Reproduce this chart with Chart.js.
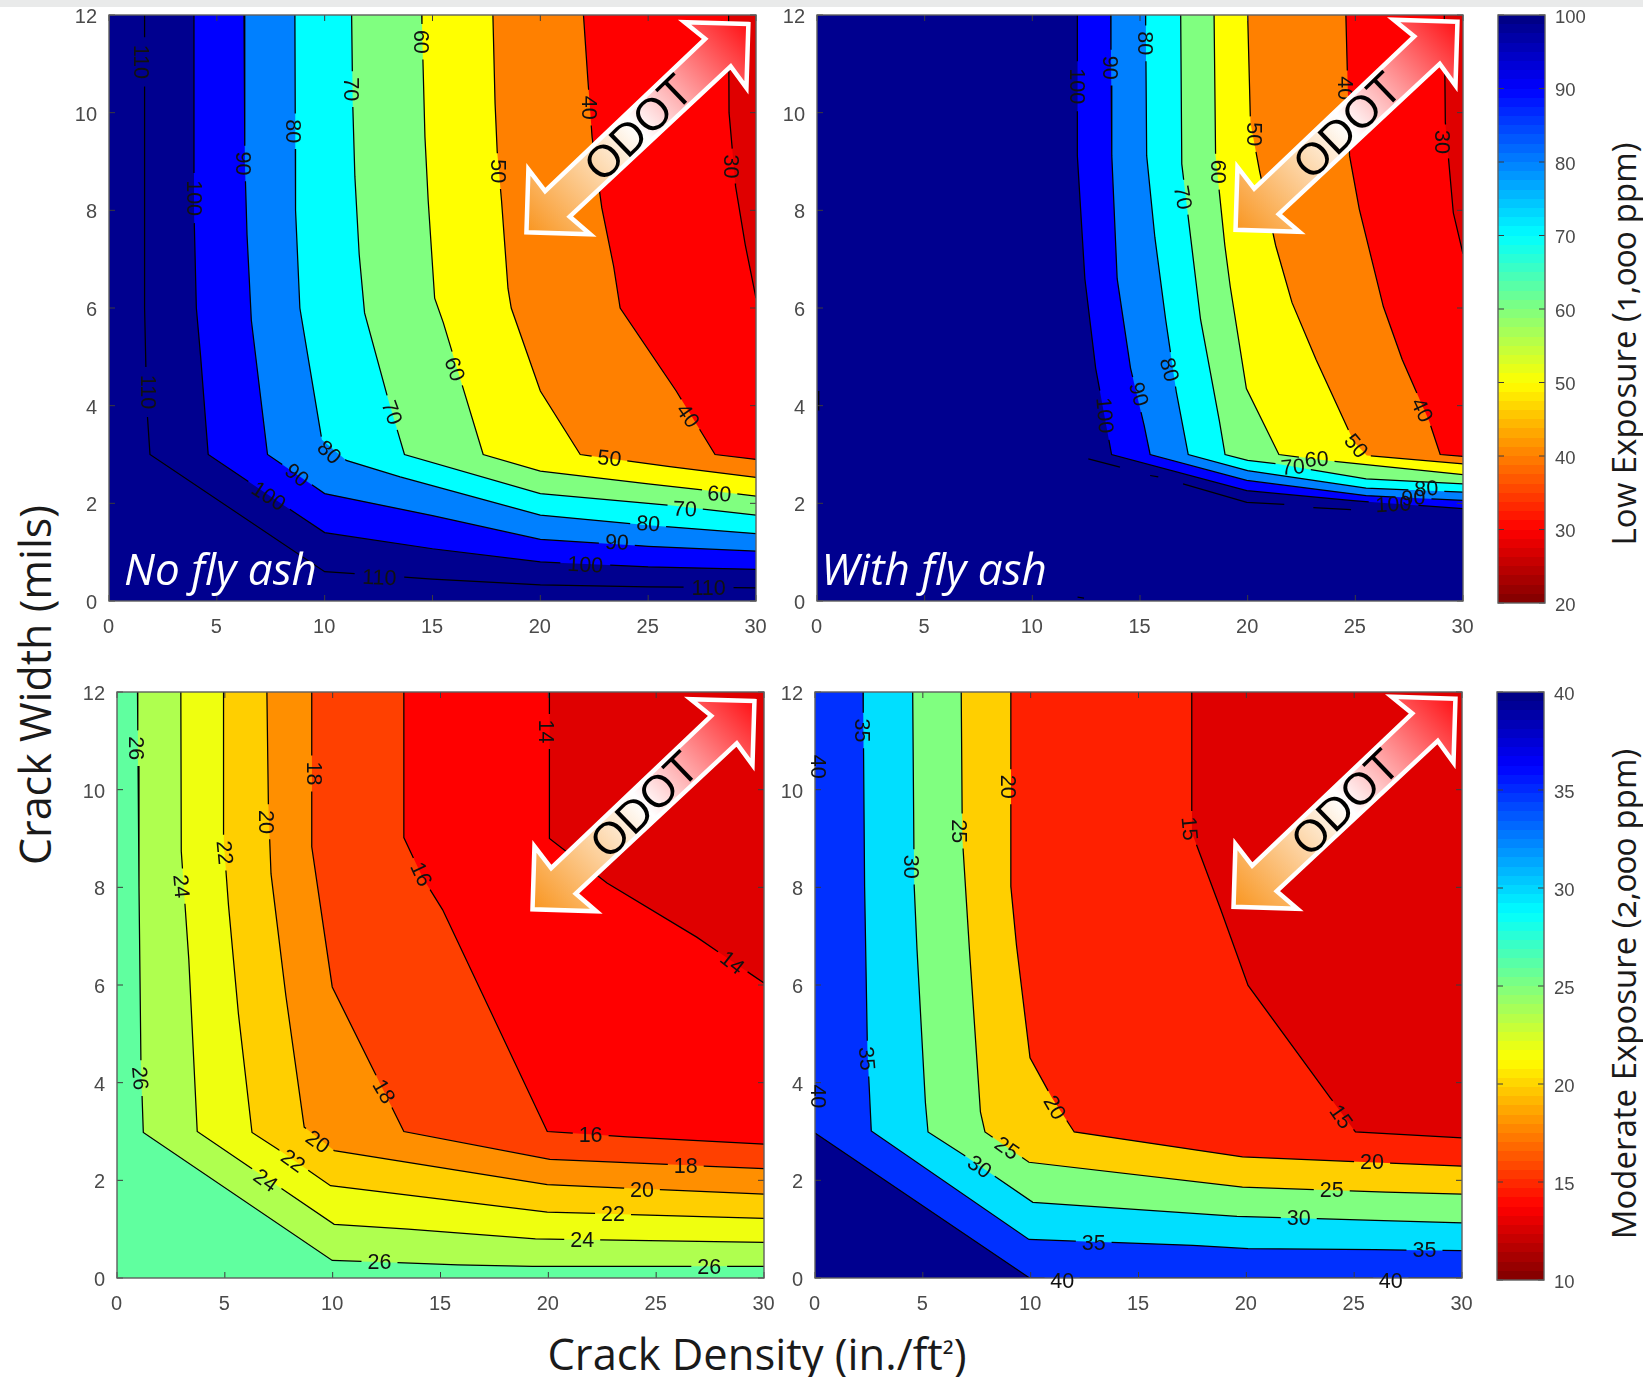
<!DOCTYPE html>
<html>
<head>
<meta charset="utf-8">
<title>Crack width vs crack density</title>
<script src="https://cdn.jsdelivr.net/npm/chart.js@4"></script>
<style>
html, body { margin: 0; padding: 0; background: #fff; }
body { position: relative; width: 1643px; height: 1377px; overflow: hidden; }
#strip { position: absolute; left: 0; top: 0; width: 1643px; height: 7px; background: #e9eaea; }
canvas { position: absolute; filter: blur(0.45px); }
.title { position: absolute; font-family: "Open Sans", sans-serif; color: #1a1a1a; white-space: nowrap; transform: translate(-50%, -50%); font-feature-settings: "onum"; }
.vert { transform: translate(-50%, -50%) rotate(-90deg); }
</style>
</head>
<body>
<div id="strip"></div>
<div class="title vert" style="left:34px; top:685px; font-size:43px;">Crack Width (mils)</div>
<div class="title" style="left:757px; top:1353px; font-size:43.5px;">Crack Density (in./ft<span style="font-size:0.72em; vertical-align:0.08em;">²</span>)</div>
<div class="title vert" style="left:1623px; top:344px; font-size:33px;">Low Exposure (1,000 ppm)</div>
<div class="title vert" style="left:1623px; top:994px; font-size:33px;">Moderate Exposure (2,000 ppm)</div>
<script>
// tick labels
const xTicks = [0, 5, 10, 15, 20, 25, 30];
const yTicks = [0, 2, 4, 6, 8, 10, 12];
const lowBarTicks = [20, 30, 40, 50, 60, 70, 80, 90, 100];
const modBarTicks = [10, 15, 20, 25, 30, 35, 40];

// top left: low exposure, no fly ash
const noAshLevels = [110, 100, 90, 80, 70, 60, 50, 40, 30];
const noAshContours = [
  [[1.65,12],[1.65,6],[1.75,4],[1.9,3],[10,0.6],[15,0.45],[20,0.33],[25,0.29],[30,0.27]],
  [[3.94,12],[3.94,8],[4.05,6],[4.25,5],[4.6,3],[10,1.4],[15,1.07],[20,0.8],[25,0.7],[30,0.65]],
  [[6.26,12],[6.3,9],[6.4,7.5],[6.6,5.75],[7.35,3],[10,2.2],[15,1.75],[20,1.26],[25,1.12],[30,1.02]],
  [[8.62,12],[8.65,8],[8.85,6],[9.87,3.3],[11,2.88],[13.5,2.54],[20,1.76],[25,1.55],[30,1.38]],
  [[11.25,12],[11.3,10.2],[11.4,8.7],[11.6,7.1],[11.85,5.9],[12.9,4.2],[13.7,3],[20,2.2],[26,1.96],[30,1.76]],
  [[14.5,12],[14.65,9.5],[14.8,8.2],[15.1,6.2],[15.5,5.7],[17.35,3],[20,2.66],[25,2.4],[30,2.15]],
  [[17.8,12],[17.9,10.2],[18,9.2],[18.2,8.2],[18.5,6.4],[18.65,6],[20,4.3],[21.85,3],[26,2.75],[30,2.53]],
  [[22,12],[22.2,10.7],[22.4,9.5],[22.85,8.05],[23.4,6.85],[23.7,6],[26.3,4.3],[28.1,3],[30,2.9]],
  [[28.73,12],[28.75,10],[29.05,8.5],[29.5,7.3],[30,6.2]]
];
const noAshLabels = [
  [110,1.45,11.04,90],[100,3.9,8.25,90],[90,6.17,8.96,90],[80,8.48,9.62,90],[70,11.19,10.48,90],[60,14.4,11.45,90],
  [40,22.2,10.1,90],[50,18,8.8,90],[30,28.77,8.9,90],[110,1.76,4.28,90],[70,13.07,3.85,70],[80,10.18,3.03,42],
  [90,8.68,2.56,38],[100,7.37,2.13,33],[110,12.53,0.46,2],[60,15.98,4.74,70],[40,26.8,3.78,55],[50,23.2,2.9,6],
  [60,28.3,2.17,3],[70,26.7,1.86,3],[80,25,1.56,3],[90,23.55,1.18,3],[100,22.08,0.72,3],[110,27.8,0.25,0]
];

// top right: low exposure, with fly ash
const withAshLevels = [100, 90, 80, 70, 60, 50, 40, 30];
const withAshContours = [
  [[12.09,12],[12.09,9.12],[12.44,6.6],[12.94,4.77],[13.68,3],[19.96,2.26],[24.76,2.06],[30,1.89]],
  [[13.64,12],[13.69,9.12],[13.94,6.6],[14.56,4.77],[15.19,3.6],[15.47,3],[19.96,2.47],[25.5,2.16],[30,2.06]],
  [[15.26,12],[15.31,9.12],[15.69,7.45],[16.19,5.77],[16.69,4.27],[17.24,3],[20,2.67],[25.5,2.31],[30,2.23]],
  [[16.89,12],[16.94,8.95],[17.31,7.6],[17.81,5.77],[18.69,3.68],[18.95,3],[20,2.88],[21.35,2.81],[25.5,2.5],[30,2.4]],
  [[18.44,12],[18.51,9.12],[18.94,7.28],[19.19,6.44],[19.94,4.35],[21.45,3],[23.98,2.86],[30,2.59]],
  [[20,12],[20.13,9.79],[20.56,8.79],[21.3,7.28],[22.06,6.11],[23.18,4.94],[24.93,3.26],[25.53,2.98],[30,2.81]],
  [[24.56,12],[24.73,9.12],[25.18,8.03],[26.3,6.03],[27.18,4.94],[28.43,3.68],[28.94,3],[30,2.96]],
  [[29.13,12],[29.18,9.79],[29.55,7.95],[30,7.11]]
];
const withAshLabels = [
  [80,15.19,11.42,90],[90,13.56,10.92,90],[100,12.02,10.54,90],[50,20.26,9.56,90],[30,28.98,9.4,90],[40,24.48,10.5,90],
  [60,18.56,8.79,90],[70,16.94,8.26,80],[80,16.31,4.73,75],[90,14.89,4.23,75],[100,13.31,3.8,85],[40,28.05,3.9,65],
  [50,25,3.16,50],[60,23.2,2.88,-3],[70,22.1,2.72,-5],[100,26.77,1.96,-3],[90,27.7,2.09,-3],[80,28.3,2.28,-3]
];
// broken bits of the 110 line that survive under the labels in this panel
const withAshPieces = [
  [[12.6,2.91],[14.07,2.74]],
  [[15.47,2.57],[15.85,2.54]],
  [[17,2.4],[19.96,2.02],[21.7,1.98]],
  [[23.05,1.91],[24.8,1.87]],
  [[0.08,4.3],[0.08,3.9]],
  [[12.1,0.08],[12.4,0.06]]
];

// bottom left: moderate exposure, no fly ash
const modNoAshLevels = [26, 24, 22, 20, 18, 16, 14];
const modNoAshContours = [
  [[0.95,12],[1.02,8],[1.11,4.39],[1.22,2.98],[9.98,0.36],[15.8,0.27],[19.26,0.24],[30,0.24]],
  [[2.96,12],[2.98,8.74],[3.33,6.52],[3.72,3],[10.07,1.1],[13.5,1],[19.4,0.8],[30,0.73]],
  [[4.94,12],[4.94,9],[5.17,7.63],[5.63,5.41],[6.26,2.98],[7.48,2.63],[9.9,1.89],[19.95,1.35],[30,1.22]],
  [[6.95,12],[7.02,9.67],[7.14,8.28],[7.83,5.78],[8.68,3.09],[10.07,2.61],[19.95,1.91],[30,1.72]],
  [[9.03,12],[9.03,8.83],[9.98,5.96],[11.64,4.48],[13.3,3],[20.07,2.43],[30,2.24]],
  [[13.3,12],[13.3,9.02],[14.18,8.19],[15.1,7.54],[19.95,3],[23.65,2.89],[30,2.74]],
  [[20.05,12],[20.05,9],[22.72,8.09],[26.88,6.98],[30,6.04]]
];
const modNoAshLabels = [
  [26,0.83,10.85,90],[18,9.1,10.33,90],[14,19.84,11.19,90],[20,6.86,9.34,90],[22,4.94,8.71,85],[24,2.93,8.02,85],
  [16,14.06,8.26,65],[14,28.5,6.44,38],[26,1.02,4.09,85],[18,12.33,3.81,60],[20,9.28,2.77,35],[22,8.13,2.38,35],
  [24,6.86,1.98,35],[16,21.96,2.91,0],[18,26.37,2.28,0],[20,24.34,1.78,0],[22,23,1.29,0],[24,21.57,0.76,0],
  [26,12.17,0.31,0],[26,27.46,0.2,0]
];

// bottom right: moderate exposure, with fly ash
const modAshLevels = [40, 35, 30, 25, 20, 15];
const modAshContours = [
  [[0,2.97],[9.95,0],[30,0]],
  [[2.23,12],[2.3,8.02],[2.43,4.69],[2.61,3.01],[9.92,0.79],[17.52,0.67],[20.08,0.6],[25.96,0.58],[30,0.56]],
  [[4.53,12],[4.6,8.02],[4.73,6.73],[5.12,3.59],[5.24,2.99],[6.9,2.52],[10.1,1.55],[19.57,1.26],[25.96,1.18],[30,1.13]],
  [[6.78,12],[6.83,9.04],[7.16,6.73],[7.67,3.4],[7.88,2.99],[9.92,2.37],[19.82,1.86],[26.47,1.76],[30,1.72]],
  [[9.08,12],[9.08,8.02],[9.34,6.82],[9.97,4.51],[11,3.68],[12.02,2.99],[19.82,2.48],[25.2,2.38],[30,2.29]],
  [[17.47,12],[17.47,9.13],[18.8,7.56],[20.08,5.99],[23.91,3.68],[25.06,2.99],[30,2.87]]
];
const modAshLabels = [
  [35,2.12,11.21,90],[40,0.08,10.47,90],[20,8.9,10.06,90],[25,6.65,9.15,90],[30,4.42,8.42,90],[15,17.31,9.2,85],
  [35,2.35,4.49,85],[40,0.08,3.72,90],[20,11.07,3.48,60],[15,24.35,3.29,55],[25,8.87,2.64,35],[30,7.6,2.26,35],
  [20,25.83,2.36,0],[25,23.96,1.78,0],[30,22.43,1.2,0],[35,12.92,0.7,0],[35,28.26,0.56,0],[40,11.46,-0.08,0],[40,26.7,-0.08,0]
];

// band colours, one per contour (band on the low side of it)
const lowColors = ['#00008f','#0000ff','#0080ff','#00ffff','#80ff80','#ffff00','#ff8000','#ff0000','#df0000'];
const modNoAshColors = ['#afff4f','#efff0f','#ffcf00','#ff8f00','#ff4000','#ff0000','#df0000'];
const modAshColors = ['#0030ff','#00dfff','#80ff80','#ffcf00','#ff2000','#df0000'];

const tickFont = { family: '"Liberation Sans", Arial, sans-serif', size: 20 };
const tickColor = '#4a4a4a';
const LEFT = 60, RIGHT = 50, TOP = 14, BOTTOM = 45;
const PX_X = 21.55, PX_Y = 48.8;

function makeCanvas(box) {
  const c = document.createElement('canvas');
  c.width = Math.round(box.r - box.l + LEFT + RIGHT);
  c.height = Math.round(box.b - box.t + TOP + BOTTOM);
  c.style.left = (box.l - LEFT) + 'px';
  c.style.top = (box.t - TOP) + 'px';
  document.body.appendChild(c);
  return c;
}

// leave the contour line open where its label sits
function openAtLabels(pts, labels) {
  const out = [];
  pts.forEach(function(p, i) {
    if (i == pts.length - 1) { out.push({x: p[0], y: p[1]}); return; }
    const q = pts[i + 1];
    let cuts = [];
    labels.forEach(function(l) {
      const r = String(l[0]).length > 2 ? 25 : 18;
      const ax = (p[0] - l[1]) * PX_X, ay = (p[1] - l[2]) * PX_Y;
      const dx = (q[0] - p[0]) * PX_X, dy = (q[1] - p[1]) * PX_Y;
      const A = dx * dx + dy * dy, B = ax * dx + ay * dy, C = ax * ax + ay * ay - r * r;
      const D = B * B - A * C;
      if (D <= 0 || A == 0) return;
      const t1 = (-B - Math.sqrt(D)) / A, t2 = (-B + Math.sqrt(D)) / A;
      if (t2 > 0 && t1 < 1) cuts.push([Math.max(t1, 0), Math.min(t2, 1)]);
    });
    cuts.sort(function(a, b) { return a[0] - b[0]; });
    out.push({x: p[0], y: p[1]});
    cuts.forEach(function(c) {
      const at = function(t) { return {x: p[0] + (q[0] - p[0]) * t, y: p[1] + (q[1] - p[1]) * t}; };
      out.push(at(c[0]));
      out.push({x: at(c[0]).x, y: null});
      out.push(at(c[1]));
    });
  });
  return out;
}

function drawFrame(chart, ticksX) {
  const ctx = chart.ctx, a = chart.chartArea;
  ctx.save();
  ctx.strokeStyle = '#3c3c3c';
  ctx.lineWidth = 1;
  ctx.beginPath();
  ticksX.forEach(function(v) {
    const px = chart.scales.x.getPixelForValue(v);
    ctx.moveTo(px, a.bottom); ctx.lineTo(px, a.bottom - 6);
    ctx.moveTo(px, a.top); ctx.lineTo(px, a.top + 6);
  });
  chart.scales.y.ticks.forEach(function(t) {
    const py = chart.scales.y.getPixelForValue(t.value);
    ctx.moveTo(a.left, py); ctx.lineTo(a.left + 6, py);
    ctx.moveTo(a.right, py); ctx.lineTo(a.right - 6, py);
  });
  ctx.stroke();
  ctx.strokeStyle = '#5f5f5f';
  ctx.lineWidth = 1.4;
  ctx.strokeRect(a.left, a.top, a.right - a.left, a.bottom - a.top);
  ctx.restore();
}

// outline of the ODOT arrow, measured from its lower left tip
const arrowShape = [[226,-212],[161,-214],[182,-197],[19,-42],[2,-64],[0,0],[65,2],[44,-16],[208,-169],[224,-147]];

function drawArrow(chart, tip) {
  const ctx = chart.ctx;
  const x0 = chart.scales.x.getPixelForValue(tip[0]), y0 = chart.scales.y.getPixelForValue(tip[1]);
  ctx.save();
  ctx.translate(x0 + 2.5, y0 - 1);
  const g = ctx.createLinearGradient(0, 0, 222, -208);
  g.addColorStop(0, '#f9951f');
  g.addColorStop(0.5, '#ffffff');
  g.addColorStop(1, '#ff1014');
  ctx.beginPath();
  arrowShape.forEach(function(p, i) {
    const px = p[0] * 0.982, py = p[1] * 0.982;
    if (i == 0) ctx.moveTo(px, py); else ctx.lineTo(px, py);
  });
  ctx.closePath();
  ctx.fillStyle = g;
  ctx.fill();
  ctx.strokeStyle = '#fff';
  ctx.lineWidth = 4.5;
  ctx.lineJoin = 'miter';
  ctx.stroke();
  ctx.translate(113, -103);
  ctx.rotate(-44 * Math.PI / 180);
  ctx.font = '45px "Liberation Sans", Arial, sans-serif';
  ctx.fillStyle = '#000';
  ctx.textAlign = 'center';
  ctx.textBaseline = 'middle';
  ctx.fillText('ODOT', 0, 1);
  ctx.restore();
}

function contourPanel(box, levels, contours, labels, colors, base, tip, caption, pieces) {
  const datasets = [];
  contours.forEach(function(pts, i) {
    datasets.push({
      data: pts.map(function(p) { return {x: p[0], y: p[1]}; }),
      showLine: true, pointRadius: 0, borderWidth: 0, tension: 0,
      fill: 'end', backgroundColor: colors[i], order: 1000 - i
    });
    datasets.push({
      data: openAtLabels(pts, labels.filter(function(l) { return l[0] == levels[i]; })),
      showLine: true, pointRadius: 0, borderWidth: 1.25, borderColor: '#000', tension: 0,
      fill: false, spanGaps: false, order: 1
    });
  });
  (pieces || []).forEach(function(pts) {
    datasets.push({
      data: pts.map(function(p) { return {x: p[0], y: p[1]}; }),
      showLine: true, pointRadius: 0, borderWidth: 1.25, borderColor: '#000', tension: 0, fill: false, order: 1
    });
  });

  new Chart(makeCanvas(box), {
    type: 'scatter',
    data: { datasets: datasets },
    options: {
      responsive: false, animation: false, events: [],
      layout: { padding: { top: TOP, right: RIGHT } },
      plugins: { legend: { display: false }, tooltip: { enabled: false } },
      scales: {
        x: {
          type: 'linear', min: 0, max: 30, grid: { display: false, drawTicks: false }, border: { display: false },
          ticks: { stepSize: 5, maxRotation: 0, padding: 14, labelOffset: -0.5, font: tickFont, color: tickColor },
          afterFit: function(s) { s.height = BOTTOM; s.paddingLeft = 0; s.paddingRight = 0; }
        },
        y: {
          type: 'linear', min: 0, max: 12, grid: { display: false, drawTicks: false }, border: { display: false },
          ticks: { stepSize: 2, padding: 12, labelOffset: 2.5, font: tickFont, color: tickColor },
          afterFit: function(s) { s.width = LEFT; s.paddingTop = 0; s.paddingBottom = 0; }
        }
      }
    },
    plugins: [{
      id: 'panelMarks',
      beforeDatasetsDraw: function(chart) {
        const a = chart.chartArea;
        chart.ctx.fillStyle = base;
        chart.ctx.fillRect(a.left, a.top, a.right - a.left, a.bottom - a.top);
      },
      afterDatasetsDraw: function(chart) {
        const ctx = chart.ctx;
        drawFrame(chart, xTicks);
        labels.forEach(function(l) {
          ctx.save();
          ctx.translate(chart.scales.x.getPixelForValue(l[1]), chart.scales.y.getPixelForValue(l[2]));
          ctx.rotate(l[3] * Math.PI / 180);
          ctx.font = '21.5px "Liberation Sans", Arial, sans-serif';
          ctx.fillStyle = '#111';
          ctx.textAlign = 'center';
          ctx.textBaseline = 'middle';
          ctx.fillText(String(l[0]), 0, 0);
          ctx.restore();
        });
        drawArrow(chart, tip);
        if (caption) {
          ctx.save();
          ctx.font = 'italic 44px "Open Sans", sans-serif';
          ctx.fillStyle = '#fff';
          ctx.textBaseline = 'alphabetic';
          ctx.fillText(caption, chart.scales.x.getPixelForValue(caption.length > 10 ? 0.2 : 0.7), chart.chartArea.bottom - 16);
          ctx.restore();
        }
      }
    }]
  });
}

// jet map, dark red at the bottom of the bar and navy at the top
function jet(t) {
  const f = function(v) { return Math.round(255 * Math.max(0, Math.min(1, v))); };
  const u = 1 - t;
  return 'rgb(' + f(1.5 - Math.abs(4 * u - 3)) + ',' + f(1.5 - Math.abs(4 * u - 2)) + ',' + f(1.5 - Math.abs(4 * u - 1)) + ')';
}

function colorBar(box, ticks) {
  const lo = ticks[0], hi = ticks[ticks.length - 1];
  new Chart(makeCanvas(box), {
    type: 'bar',
    data: {
      labels: ['bar'],
      datasets: [{
        data: [[lo, hi]], barPercentage: 1, categoryPercentage: 1, borderWidth: 0,
        backgroundColor: function(c) {
          const a = c.chart.chartArea;
          if (!a) return '#000';
          const g = c.chart.ctx.createLinearGradient(0, a.bottom, 0, a.top);
          for (let i = 0; i < 64; i++) {
            g.addColorStop(i / 64, jet((i + 0.5) / 64));
            g.addColorStop((i + 1) / 64, jet((i + 0.5) / 64));
          }
          return g;
        }
      }]
    },
    options: {
      responsive: false, animation: false, events: [],
      layout: { padding: { top: TOP, left: LEFT, bottom: BOTTOM } },
      plugins: { legend: { display: false }, tooltip: { enabled: false } },
      scales: {
        x: { display: false },
        y: {
          position: 'right', min: lo, max: hi, grid: { display: false, drawTicks: false }, border: { display: false },
          ticks: { stepSize: ticks[1] - ticks[0], padding: 10, labelOffset: 2.5, font: { family: tickFont.family, size: 18.5 }, color: tickColor },
          afterFit: function(s) { s.width = RIGHT; s.paddingTop = 0; s.paddingBottom = 0; }
        }
      }
    },
    plugins: [{
      id: 'barFrame',
      afterDatasetsDraw: function(chart) { drawFrame(chart, []); }
    }]
  });
}

contourPanel({l: 109, r: 756, t: 14.5, b: 600.5}, noAshLevels, noAshContours, noAshLabels, lowColors, '#00008f', [19.24, 7.53], 'No fly ash');
contourPanel({l: 817, r: 1463, t: 14.5, b: 600.5}, withAshLevels, withAshContours, withAshLabels, lowColors.slice(1), '#00008f', [19.32, 7.58], 'With fly ash', withAshPieces);
contourPanel({l: 117.4, r: 764, t: 692, b: 1277.5}, modNoAshLevels, modNoAshContours, modNoAshLabels, modNoAshColors, '#60ff9f', [19.15, 7.53]);
contourPanel({l: 815, r: 1462, t: 692, b: 1277.5}, modAshLevels, modAshContours, modAshLabels, modAshColors, '#00008f', [19.29, 7.58]);
colorBar({l: 1498, r: 1545, t: 14.5, b: 602.5}, lowBarTicks);
colorBar({l: 1497, r: 1544, t: 692, b: 1279.5}, modBarTicks);
</script>
</body>
</html>
